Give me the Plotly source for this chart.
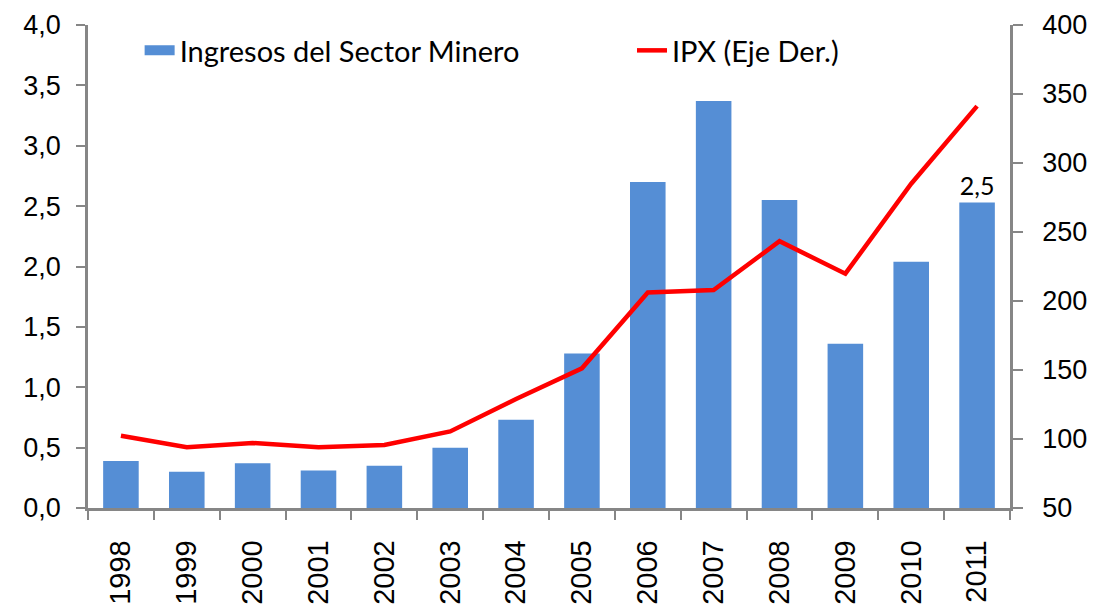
import plotly.graph_objects as go

years = [str(y) for y in range(1998, 2012)]
ingresos = [0.39, 0.30, 0.37, 0.31, 0.35, 0.50, 0.73, 1.28, 2.70, 3.37, 2.55, 1.36, 2.04, 2.53]
ipx = [102.4, 94.0, 97.1, 94.0, 95.7, 105.5, 129.0, 151.2, 206.2, 207.9, 243.3, 219.8, 285.0, 341.2]

# only the last bar carries a value label
bar_text = [""] * (len(ingresos) - 1) + [f"{ingresos[-1]:.1f}".replace(".", ",")]

axis_grey = "#868686"
bar_blue = "#558ED5"
legend_font = dict(family="Lato", size=29, color="#000")

fig = go.Figure()
fig.add_trace(go.Bar(
    x=years, y=ingresos, name="Ingresos del Sector Minero",
    marker=dict(color=bar_blue, line=dict(width=0)), width=0.54,
    text=bar_text, textposition="outside", cliponaxis=False,
    textfont=dict(family="Lato", size=25, color="#000"),
    showlegend=False,
))
# legend entry only: a thick line gives the wide Excel-style swatch
fig.add_trace(go.Scatter(
    x=[None], y=[None], mode="lines", name="Ingresos del Sector Minero",
    line=dict(color=bar_blue, width=20), legend="legend", hoverinfo="skip",
))
fig.add_trace(go.Scatter(
    x=years, y=ipx, name="IPX (Eje Der.)", yaxis="y2", mode="lines",
    line=dict(color="#FF0000", width=4.5),
    legend="legend2",
))

# the page body adds an 8px offset, margins account for it
fig.update_layout(
    width=1097, height=606, autosize=False,
    paper_bgcolor="white", plot_bgcolor="white",
    separators=",.",
    margin=dict(l=80, r=95, t=17, b=106),
    font=dict(family="Liberation Sans", size=27, color="#000"),
    showlegend=True,
    legend=dict(
        x=0.056, y=1.0, xanchor="left", yanchor="top",
        font=legend_font, bgcolor="rgba(0,0,0,0)",
    ),
    legend2=dict(
        x=0.59, y=1.0, xanchor="left", yanchor="top",
        font=legend_font, bgcolor="rgba(0,0,0,0)",
    ),
    xaxis=dict(
        type="category", tickangle=-90, tickson="boundaries",
        ticks="outside", ticklen=9, tickwidth=2, tickcolor=axis_grey,
        showline=True, linecolor=axis_grey, linewidth=2.5,
        showgrid=False, tickfont=dict(size=29), automargin=False,
        ticklabelstandoff=18, ticklabeloverflow="allow",
    ),
    yaxis=dict(
        range=[0, 4], dtick=0.5, tickformat=".1f",
        ticks="outside", ticklen=9, tickwidth=2, tickcolor=axis_grey,
        showline=True, linecolor=axis_grey, linewidth=2.5,
        showgrid=False, zeroline=False, automargin=False,
        ticklabelstandoff=10, ticklabeloverflow="allow",
    ),
    yaxis2=dict(
        range=[50, 400], dtick=50, overlaying="y", side="right",
        ticks="outside", ticklen=10, tickwidth=2, tickcolor=axis_grey,
        showline=True, linecolor=axis_grey, linewidth=2.5,
        showgrid=False, zeroline=False, automargin=False,
        ticklabelstandoff=14, ticklabeloverflow="allow",
    ),
)

fig.write_html("out.html")
